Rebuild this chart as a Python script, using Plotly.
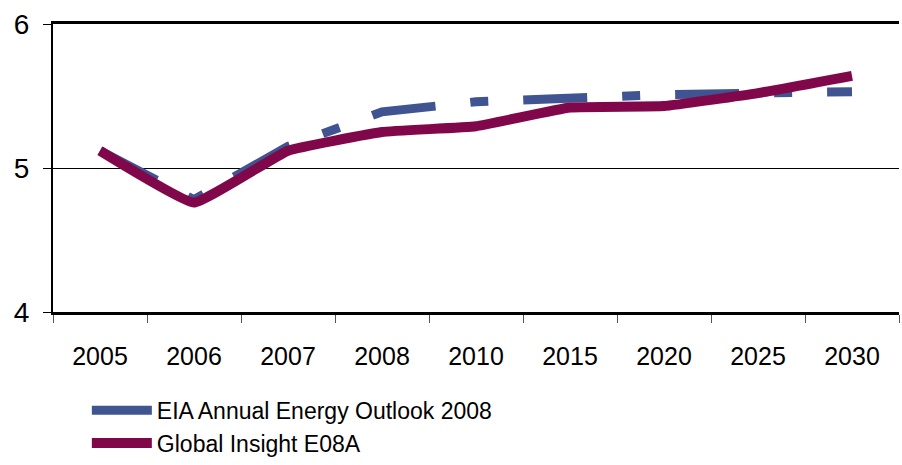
import plotly.graph_objects as go

years = ["2005", "2006", "2007", "2008", "2010", "2015", "2020", "2025", "2030"]
eia = [5.12, 4.78, 5.15, 5.39, 5.46, 5.49, 5.51, 5.52, 5.53]
global_insight = [5.12, 4.76, 5.12, 5.25, 5.29, 5.42, 5.43, 5.52, 5.64]

FONT = "Arial, Liberation Sans, sans-serif"

fig = go.Figure()

fig.add_trace(go.Scatter(
    x=years, y=eia, mode="lines",
    name="EIA Annual Energy Outlook 2008",
    line=dict(color="#3F5491", width=9, dash="64px,35px,18px,35px"),
))
fig.add_trace(go.Scatter(
    x=years, y=global_insight, mode="lines",
    name="Global Insight E08A",
    line=dict(color="#80084A", width=10, shape="spline", smoothing=0.3),
))

fig.update_layout(
    width=902, height=465,
    paper_bgcolor="white", plot_bgcolor="white",
    font=dict(family=FONT, size=24, color="black"),
    margin=dict(l=53, r=3, t=24, b=153, autoexpand=False),
    showlegend=True,
    legend=dict(
        orientation="v", x=0.04, xanchor="left",
        yref="container", y=0.164, yanchor="top",
        font=dict(size=23), tracegroupgap=0, itemwidth=60,
        bgcolor="rgba(0,0,0,0)",
    ),
)
fig.update_xaxes(
    type="category", showgrid=False, automargin=False,
    showline=True, linecolor="black", linewidth=3, mirror=True,
    ticks="outside", tickson="boundaries", ticklen=8, tickcolor="#555", tickwidth=1,
    tickfont=dict(size=25), ticklabelstandoff=20, range=[-0.5, 8.5],
)
fig.update_yaxes(
    range=[4, 6], tickvals=[4, 5, 6], showgrid=True, gridcolor="black", gridwidth=1,
    showline=True, linecolor="black", linewidth=2, automargin=False,
    ticks="outside", ticklen=8, tickcolor="black", tickwidth=1,
    tickfont=dict(size=28), ticklabelstandoff=8,
    zeroline=False,
)

fig.write_html("out.html", config={"displayModeBar": False},
               post_script="document.body.style.margin='0';")
